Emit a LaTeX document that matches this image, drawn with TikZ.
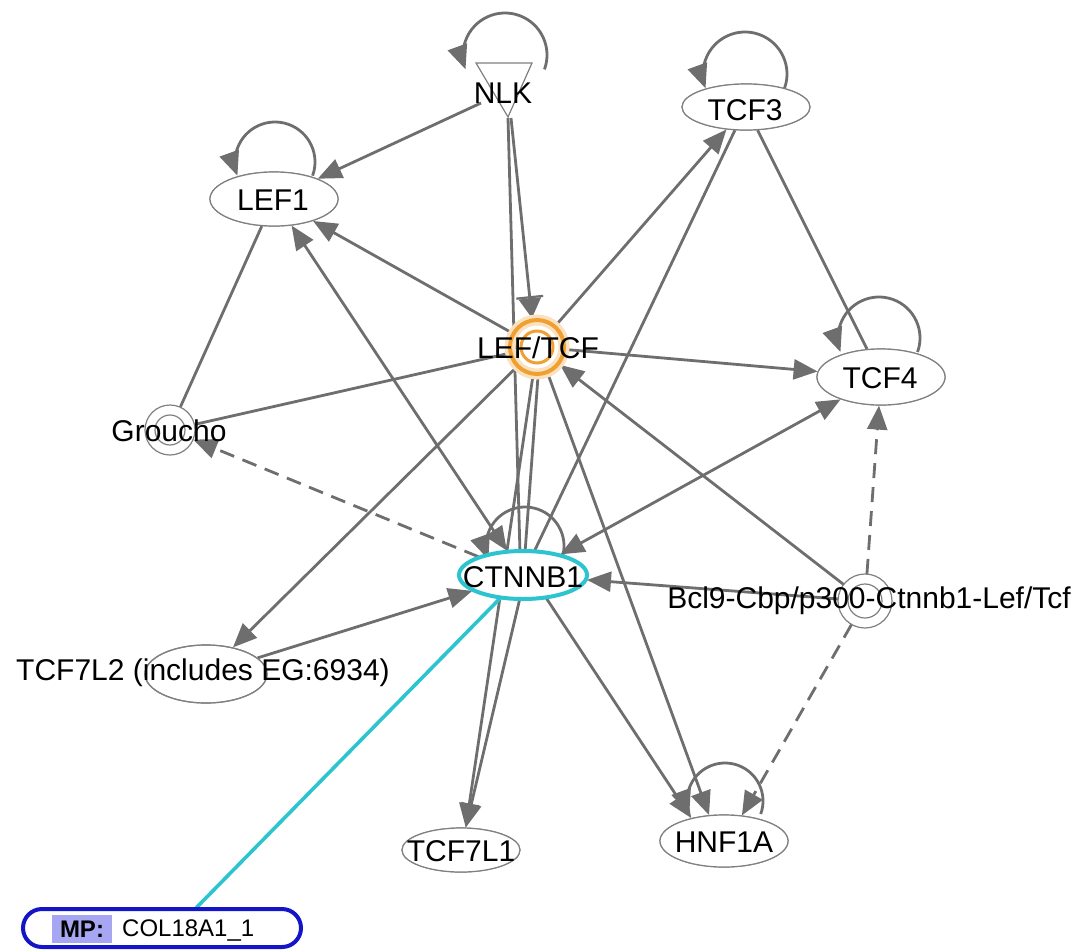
\documentclass[tikz,border=0pt]{standalone}
\usepackage{fontspec}
\setmainfont{Liberation Sans}
\usetikzlibrary{arrows.meta,shapes.geometric}
\definecolor{edgegray}{HTML}{6E6E6E}
\definecolor{nodegray}{HTML}{808080}
\definecolor{ctcyan}{HTML}{2CC5CF}
\definecolor{lefor}{HTML}{F0A030}
\definecolor{mpblue}{HTML}{1414C8}
\definecolor{mpfill}{HTML}{A6A6F2}
\begin{document}
\begin{tikzpicture}[x=1pt,y=-1pt,
  edge/.style={draw=edgegray,line width=2.8pt},
  arr/.style={-{Triangle[length=24pt,width=20pt]}},
  barr/.style={{Triangle[length=24pt,width=20pt]}-{Triangle[length=24pt,width=20pt]}},
  dashedge/.style={dash pattern=on 15pt off 9pt},
  gene/.style={ellipse,draw=nodegray,line width=1.2pt,fill=white,inner sep=0pt},
  lbl/.style={font=\fontsize{30}{32}\selectfont,inner sep=0pt,text=black}]
\useasboundingbox (0,0) rectangle (1081,951);
% ---- node shapes ----
\node[gene,minimum width=128pt,minimum height=54pt] (LEF1) at (274,199) {};
\node[gene,minimum width=128pt,minimum height=46pt] (TCF3) at (746,107) {};
\node[gene,minimum width=128pt,minimum height=56pt] (TCF4) at (881,377) {};
\node[gene,minimum width=122pt,minimum height=58pt] (TCF7L2) at (206,674) {};
\node[gene,minimum width=118pt,minimum height=44pt] (TCF7L1) at (461,850) {};
\node[gene,minimum width=128pt,minimum height=52pt] (HNF1A) at (724,841) {};
\node[circle,inner sep=0pt,minimum size=58pt] (LEFTCF) at (537,347) {};
\node[circle,inner sep=0pt,minimum size=50pt] (Groucho) at (170,430) {};
\node[circle,inner sep=0pt,minimum size=54pt] (Bcl9) at (865,601) {};
\node[ellipse,inner sep=0pt,minimum width=130pt,minimum height=50pt] (CTNNB1) at (523,575) {};
\node[rounded corners=19pt,minimum width=278pt,minimum height=38pt,inner sep=0pt] (MP) at (162,928) {};
\coordinate (NLKl) at (481,103);
\coordinate (NLKb) at (511,118);
\coordinate (NLKc) at (508,118);
% ---- edges ----
\draw[edge,arr] (NLKl) -- (LEF1);
\draw[edge,-{Bar[width=27pt,line width=2.2pt] Triangle[length=20pt,width=22pt]}] (NLKb) -- (LEFTCF.100);
\draw[edge] (NLKc) -- (CTNNB1.97);
\draw[edge,arr] (LEFTCF) -- (LEF1);
\draw[edge,barr] (LEF1) -- (CTNNB1);
\draw[edge] (LEF1) -- (Groucho);
\draw[edge,arr] (LEFTCF) -- (TCF3);
\draw[edge,arr] (LEFTCF) -- (TCF4);
\draw[edge] (LEFTCF) -- (Groucho);
\draw[edge,dashedge,arr] (CTNNB1) -- (Groucho);
\draw[edge,arr] (LEFTCF) -- (TCF7L2);
\draw[edge,arr] (TCF7L2) -- (CTNNB1);
\draw[edge] (LEFTCF.272) -- (CTNNB1.85);
\draw[edge,arr] (LEFTCF.262) -- (TCF7L1.78);
\draw[edge,arr] (CTNNB1.262) -- (TCF7L1.78);
\draw[edge,arr] (LEFTCF.292) -- (HNF1A.120);
\draw[edge,arr] (CTNNB1.-45) -- (HNF1A.145);
\draw[edge] (TCF3) -- (CTNNB1);
\draw[edge] (TCF3) -- (TCF4);
\draw[edge,barr] (TCF4) -- (CTNNB1);
\draw[edge,arr] (Bcl9) -- (LEFTCF);
\draw[edge,arr] (Bcl9) -- (CTNNB1);
\draw[edge,dashedge,arr] (Bcl9) -- (TCF4);
\draw[edge,dashedge,arr] (Bcl9) -- (HNF1A.55);
\draw[draw=ctcyan,line width=3.6pt] (CTNNB1) -- (MP.30);
% self loops
\draw[edge,arr] ([shift={(20:42)}]505,55) arc[start angle=20,end angle=-200,radius=42];
\draw[edge,arr] ([shift={(20:40)}]275,162) arc[start angle=20,end angle=-200,radius=40];
\draw[edge,arr] ([shift={(20:42)}]745,74) arc[start angle=20,end angle=-200,radius=42];
\draw[edge,arr] ([shift={(20:41)}]879,338) arc[start angle=20,end angle=-200,radius=41];
\draw[edge,arr] ([shift={(20:39)}]525,546) arc[start angle=20,end angle=-200,radius=39];
\draw[edge,arr] ([shift={(20:38)}]725,801) arc[start angle=20,end angle=-200,radius=38];
% ---- node outlines on top ----
\node[gene,minimum width=128pt,minimum height=54pt] at (LEF1) {};
\node[gene,minimum width=128pt,minimum height=46pt] at (TCF3) {};
\node[gene,minimum width=128pt,minimum height=56pt] at (TCF4) {};
\node[gene,fill=none,minimum width=122pt,minimum height=58pt] at (TCF7L2) {};
\node[gene,minimum width=118pt,minimum height=44pt] at (TCF7L1) {};
\node[gene,minimum width=128pt,minimum height=52pt] at (HNF1A) {};
\node[ellipse,draw=ctcyan,line width=4pt,fill=white,inner sep=0pt,minimum width=128pt,minimum height=48pt] at (CTNNB1) {};
\draw[lefor!30,line width=11pt] (LEFTCF) circle[radius=27];
\draw[lefor,line width=4pt] (LEFTCF) circle[radius=27];
\draw[lefor,line width=3pt] (LEFTCF) circle[radius=16];
\draw[nodegray,line width=1.2pt,fill=white] (Groucho) circle[radius=25];
\draw[nodegray,line width=1.2pt] (Groucho) circle[radius=15];
\draw[nodegray,line width=1.2pt,fill=white] (Bcl9) circle[radius=27];
\draw[nodegray,line width=1.2pt] (Bcl9) circle[radius=17];
\draw[nodegray,line width=1.2pt,fill=white] (476,63) -- (532,63) -- (508,117) -- cycle;
\node[draw=mpblue,line width=4pt,rounded corners=19pt,minimum width=278pt,minimum height=38pt,inner sep=0pt,fill=white] at (MP) {};
% ---- labels ----
\node[lbl] (NLKt) at (503,93) {NLK};
\node[lbl] (LEF1t) at (273,200) {LEF1};
\node[lbl] (TCF3t) at (745,110) {TCF3};
\node[lbl] (TCF4t) at (880,378) {TCF4};
\node[lbl] (LEFTCFt) at (538,348) {LEF/TCF};
\node[lbl] (Grouchot) at (169,431) {Groucho};
\node[lbl] (CTNNB1t) at (523,577) {CTNNB1};
\node[lbl,anchor=east] (Bcl9t) at (1071,601) {Bcl9-Cbp/p300-Ctnnb1-Lef/Tcf};
\node[lbl] (TCF7L2t) at (203,673) {TCF7L2 (includes EG:6934)};
\node[lbl] (TCF7L1t) at (461,851) {TCF7L1};
\node[lbl] (HNF1At) at (724,842) {HNF1A};
\node[fill=mpfill,inner sep=0pt,minimum width=60pt,minimum height=28pt,font=\fontsize{24}{26}\selectfont\bfseries] (MPt) at (82,929) {MP:};
\node[anchor=west,inner sep=0pt,font=\fontsize{24}{26}\selectfont] (COLt) at (122,930) {COL18A1\_1};
\end{tikzpicture}
\end{document}
